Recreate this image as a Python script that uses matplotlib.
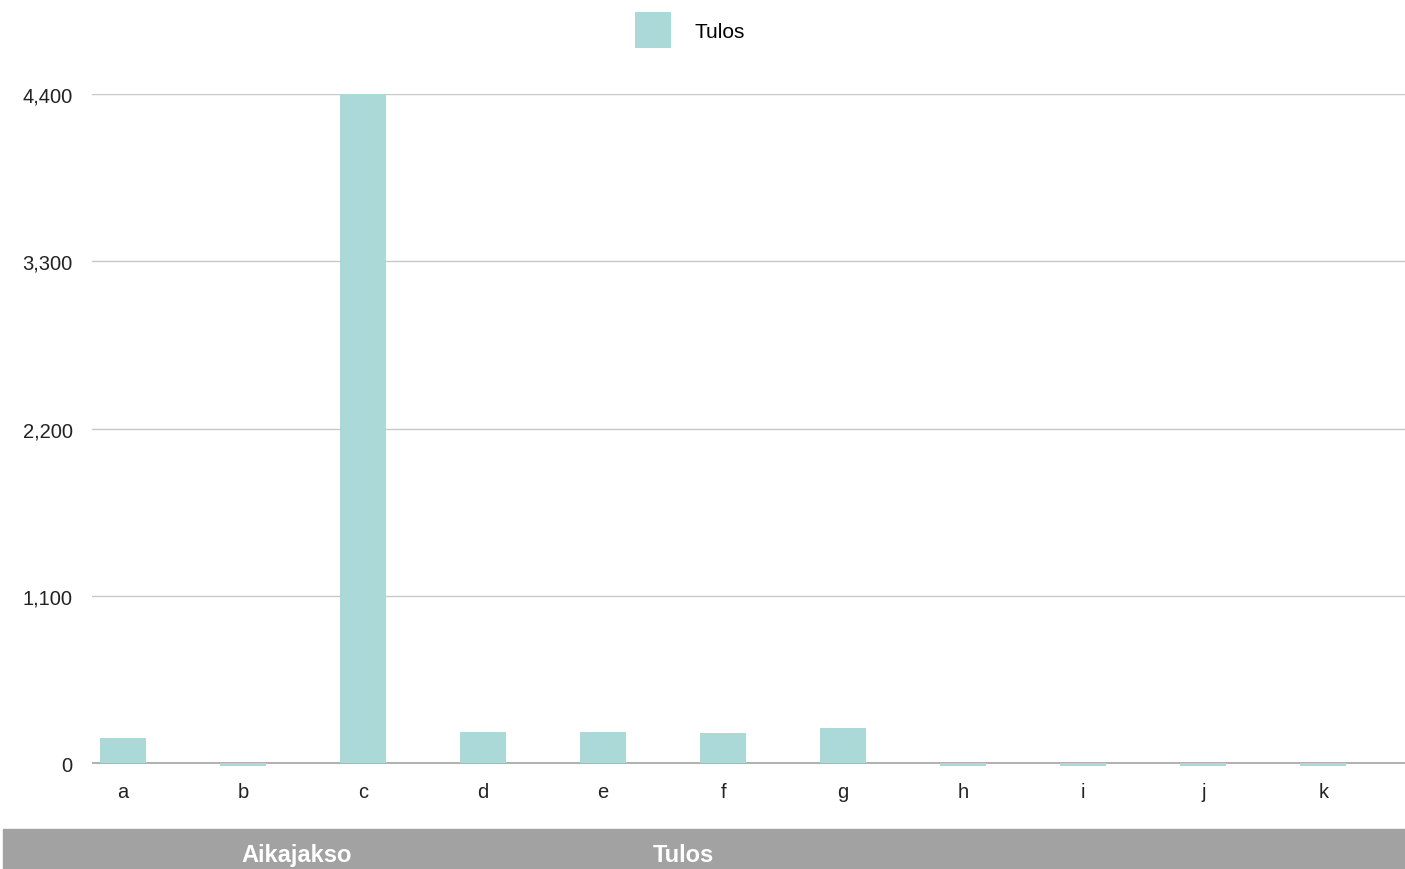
import matplotlib
matplotlib.use('Agg')
import matplotlib.pyplot as plt
from matplotlib.patches import Rectangle

categories = ['a', 'b', 'c', 'd', 'e', 'f', 'g', 'h', 'i', 'j', 'k']
values = [165, -20, 4400, 207, 203, 197, 230, -20, -20, -20, -20]
y_ticks = [0, 1100, 2200, 3300, 4400]
series_name = 'Tulos'
footer_labels = ['Aikajakso', 'Tulos']

BAR_COLOR = '#aad9d7'
plt.rcParams['font.family'] = ['Liberation Sans', 'DejaVu Sans']

W, H = 1405, 870
fig = plt.figure(figsize=(W / 100, H / 100), dpi=100)

# axes placed in pixel terms: x from 92 to 1405, y from ~770 to 95
y_min, y_max = -40, 4400
px_per_unit = (764 - 95) / 4400
bottom_px = 764 + (0 - y_min) * px_per_unit
ax = fig.add_axes([92 / W, 1 - bottom_px / H, (W - 92) / W, (bottom_px - 95) / H])

x = list(range(len(categories)))
ax.bar(x, values, width=0.385, color=BAR_COLOR, label=series_name, zorder=2)

ax.set_xlim(-0.258, 10.68)
ax.set_ylim(y_min, y_max)
ax.set_yticks(y_ticks)
ax.set_yticklabels([f'{v:,}' for v in y_ticks])
ax.set_xticks(x)
ax.set_xticklabels(categories)
ax.tick_params(axis='both', length=0, labelsize=14.5, labelcolor='#222222')
ax.tick_params(axis='y', pad=14)
ax.tick_params(axis='x', pad=9)
for s in ax.spines.values():
    s.set_visible(False)
for v in y_ticks:
    ax.axhline(v, color='#aaaaaa' if v == 0 else '#c8c8c8', lw=1.3 if v == 0 else 1.0, zorder=1)

leg = fig.legend(loc='center', bbox_to_anchor=(690 / W, 1 - 31 / H), frameon=False,
                 fontsize=15, handlelength=1.73, handleheight=2.22, handletextpad=1.15,
                 borderpad=0)

# grey header band at the bottom
fig.patches.append(Rectangle((3 / W, 0), (W - 3) / W, 40 / H, transform=fig.transFigure,
                             color='#a2a2a2', zorder=0))
fig.text(297 / W, 14 / H, footer_labels[0], ha='center', va='center', color='white',
         fontsize=17, fontweight='bold')
fig.text(683 / W, 14 / H, footer_labels[1], ha='center', va='center', color='white',
         fontsize=17, fontweight='bold')

fig.savefig('out.png', dpi=100)
